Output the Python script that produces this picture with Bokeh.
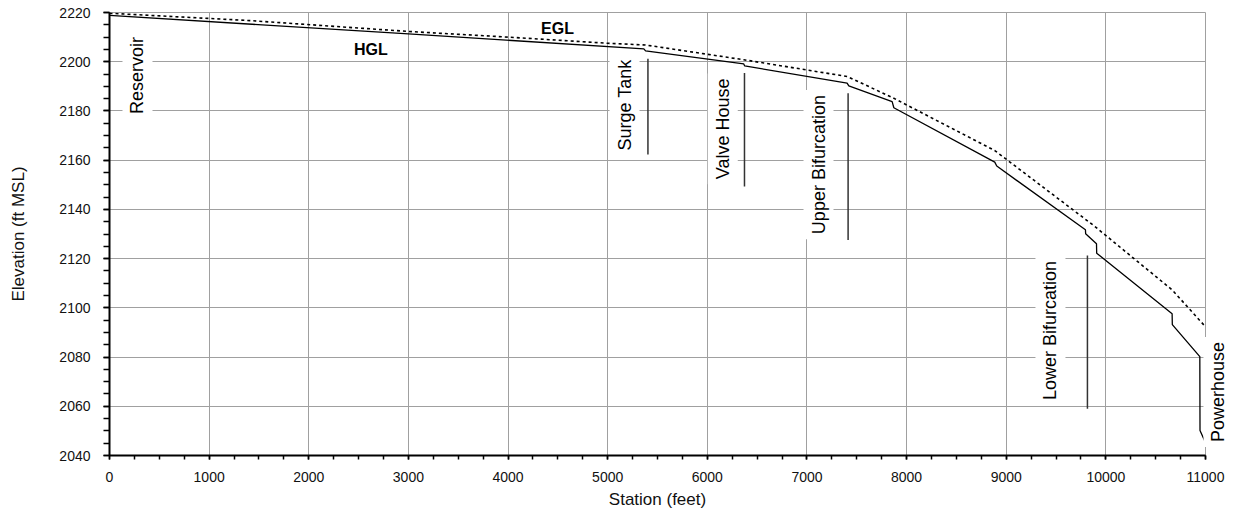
from bokeh.plotting import figure
from bokeh.models import Range1d, SingleIntervalTicker, ColumnDataSource
from bokeh.core.properties import value
from bokeh.embed import file_html
from bokeh.resources import INLINE

# Hydraulic grade line (solid)
hgl_station = [0, 3000, 5363, 5380, 6366, 6375, 7403, 7420, 7855, 7872, 8885, 8905,
               9795, 9797, 9906, 9908, 10665, 10667, 10943, 10945, 10990]
hgl_elev = [2218.8, 2211.3, 2205.2, 2204.4, 2199.1, 2198.3, 2191.3, 2190.2, 2183.8, 2181.3,
            2159.2, 2157.6, 2131.7, 2130.1, 2126.0, 2122.2, 2097.6, 2093.2, 2080.2, 2050.2, 2046.1]

# Energy grade line (dotted)
egl_station = [0, 1415, 3000, 4000, 5000, 5380, 6366, 7403, 7855, 8885, 9879, 10665, 11000]
egl_elev = [2219.7, 2216.7, 2212.3, 2210.0, 2207.5, 2206.8, 2200.8, 2194.0, 2185.5,
            2163.9, 2133.4, 2107.3, 2092.3]

# Feature labels
feature_names = ["Reservoir", "Surge Tank", "Valve House", "Upper Bifurcation",
                 "Lower Bifurcation", "Powerhouse"]
feature_station = [281, 5169, 6155, 7116, 9444, 11130]
feature_elev = [2194.4, 2182.4, 2172.7, 2158.2, 2090.8, 2065.8]

# Feature marker lines
marker_station = [5404, 6373, 7413, 9815]
marker_top = [2201.2, 2195.4, 2187.2, 2121.3]
marker_bottom = [2162.3, 2149.3, 2127.6, 2059.0]

# Line labels
line_names = ["HGL", "EGL"]
line_label_station = [2624, 4496]
line_label_elev = [2205.0, 2213.3]

FONT = "Liberation Sans"

p = figure(frame_width=1096, frame_height=443, output_backend="svg", toolbar_location=None,
           x_range=Range1d(0, 11000), y_range=Range1d(2040, 2220),
           min_border_left=109, min_border_right=29, min_border_top=12, min_border_bottom=50,
           x_axis_label="Station (feet)", y_axis_label="Elevation (ft MSL)")
p.outline_line_color = "#a0a0a0"
p.background_fill_color = "white"
p.border_fill_color = "white"

p.xaxis.ticker = SingleIntervalTicker(interval=1000, num_minor_ticks=4)
p.yaxis.ticker = SingleIntervalTicker(interval=20, num_minor_ticks=4)
p.xgrid.ticker = SingleIntervalTicker(interval=1000)
p.ygrid.ticker = SingleIntervalTicker(interval=20)
for g in (p.xgrid, p.ygrid):
    g.grid_line_color = "#a0a0a0"
    g.grid_line_width = 1

for ax in (p.xaxis, p.yaxis):
    ax.axis_line_color = "black"
    ax.axis_line_width = 2
    ax.major_tick_line_color = "black"
    ax.minor_tick_line_color = "black"
    ax.major_tick_line_width = 1.5
    ax.minor_tick_line_width = 1.5
    ax.major_tick_in = 0
    ax.minor_tick_in = 0
    ax.major_label_text_font = FONT
    ax.major_label_text_font_size = "14px"
    ax.major_label_text_color = "#111111"
    ax.axis_label_text_font = FONT
    ax.axis_label_text_font_size = "17px"
    ax.axis_label_text_font_style = "normal"
    ax.axis_label_text_color = "#111111"

p.xaxis.major_tick_out = 4
p.xaxis.minor_tick_out = 4
p.xaxis.major_label_standoff = 12
p.xaxis.axis_label_standoff = 5
p.yaxis.major_tick_out = 6
p.yaxis.minor_tick_out = 6
p.yaxis.major_label_standoff = 13
p.yaxis.axis_label_standoff = 28

p.line(egl_station, egl_elev, line_color="black", line_width=1.6, line_dash="3 3")
p.line(hgl_station, hgl_elev, line_color="black", line_width=1.3)

p.segment(x0=marker_station, y0=marker_top, x1=marker_station, y1=marker_bottom,
          line_color="#333333", line_width=1.5)

fsrc = ColumnDataSource(dict(x=feature_station, y=feature_elev, text=feature_names))
r = p.text(x="x", y="y", text="text", source=fsrc, angle=90, angle_units="deg",
           text_align="center", text_baseline="alphabetic",
           text_font=value(FONT), text_font_size="18px", text_color="black",
           background_fill_color="white", padding=5)
r.level = "overlay"

lsrc = ColumnDataSource(dict(x=line_label_station, y=line_label_elev, text=line_names))
p.text(x="x", y="y", text="text", source=lsrc, text_align="center", text_baseline="middle",
       text_font=value(FONT), text_font_size="16px", text_font_style="bold",
       text_color="black")

open("out.html", "w").write(file_html(p, INLINE))
